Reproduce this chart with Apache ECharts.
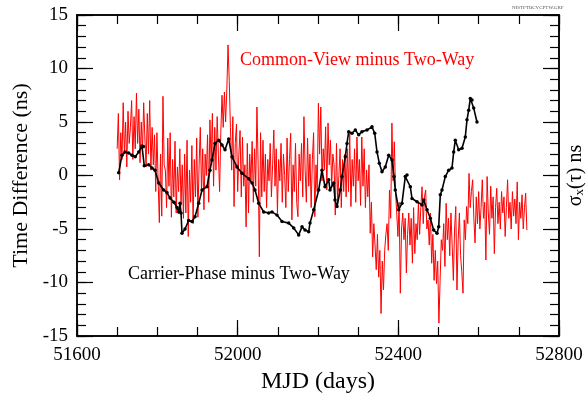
<!DOCTYPE html>
<html>
<head>
<meta charset="utf-8">
<script src="https://cdn.jsdelivr.net/npm/echarts@6/dist/echarts.min.js"></script>
<style>
html,body{margin:0;padding:0;background:#fff;}
#chart{width:586px;height:395px;}
</style>
</head>
<body>
<div id="chart"></div>
<script>
// ---- data ----
// Carrier-Phase minus Two-Way (black, with dots)
const cpMjd = [51703.8,51712,51719.5,51728.7,51737,51745,51753.6,51761.8,51765.6,51767.5,51778.5,51786.7,51794.2,51803.4,51815.8,51824,51831.5,51841.5,51849,51853.2,51856.4,51859,51861.4,51868.9,51878,51886.3,51893.8,51903,51911.2,51923.6,51931.1,51936,51943.6,51952.8,51961,51968.5,51977.7,51985.9,51998.3,52010.8,52027.5,52035.7,52043.1,52052.4,52064.8,52077.3,52085.5,52097.9,52110.4,52127,52139.5,52151.9,52160.2,52167.6,52176.8,52180.1,52189.3,52201.7,52209.9,52217.4,52226.6,52229.9,52239.1,52242.3,52247.3,52255.5,52259.7,52268,52272.2,52276.4,52284.6,52292.9,52301.3,52309.5,52322,52334.4,52341.2,52346.9,52352.6,52359.3,52367.5,52376,52384.2,52389.2,52392.4,52400.9,52409.1,52417.3,52421.6,52429.8,52434,52446.5,52458.9,52463.1,52471.4,52479.6,52488,52496.3,52500.5,52504.5,52508.7,52516.9,52525.4,52533.6,52537.8,52541.8,52550.3,52558.5,52566.7,52570.9,52575.2,52579.2,52583.4,52587.6,52595.8];
const cpVal = [0.26,1.9,2.2,2.1,1.9,1.75,2.2,2.75,2.7,0.9,1.0,0.7,0.5,-0.7,-1.35,-1.6,-2.1,-2.5,-3.0,-3.4,-2.6,-3.5,-5.4,-5.0,-4.2,-4.3,-3.85,-2.6,-1.35,-1.05,0.5,1.45,3.0,3.3,2.85,2.4,3.4,1.75,0.8,0.2,-0.3,-0.7,-1.35,-2.6,-3.4,-3.5,-3.4,-3.7,-4.3,-4.45,-4.9,-5.55,-4.8,-5.1,-5.25,-4.45,-3.2,-1.35,0.5,-1.05,-0.4,-1.35,-0.7,-2.3,-2.9,-1.35,-0.1,1.75,3.0,4.1,3.95,4.25,3.8,4.1,4.25,4.55,3.95,2.2,1.15,0.35,0.8,1.9,1.45,-0.1,-1.35,-3.2,-2.6,-0.1,0.05,-1.05,-2.15,-2.45,-2.75,-2.3,-3.2,-4.0,-5.1,-5.4,-4.8,-1.8,-1.35,-0.1,0.5,0.7,2.2,3.3,2.4,2.55,3.6,5.2,6.1,7.2,7.05,6.3,5.0];

// Common-View minus Two-Way (red), one value every 3 days from cvStart
const cvStart = 51700;
const cvStep = 3;
const cvVal = [
2.5,5.8,-0.4,4.0,1.5,6.8,2.0,5.0,0.8,6.0,3.0,
4.5,7.0,1.5,5.5,2.5,7.7,3.0,6.2,1.2,5.0,2.2,6.8,3.5,
0.8,5.8,2.0,7.0,0.5,4.5,1.0,3.8,
-1.5,4.0,-0.5,-4.4,2.0,-3.8,7.4,1.0,
0.5,-3.0,3.5,-1.0,4.0,-3.9,1.5,-2.0,3.2,-3.5,0.8,-1.5,2.5,-2.8,1.0,-4.0,
2.0,-3.5,3.3,-5.7,0.5,-2.5,2.8,-4.5,1.5,
-2.0,3.5,-3.9,1.0,4.5,-1.5,2.5,-3.2,2.0,0.0,3.8,-2.5,5.2,
1.0,5.8,-1.0,4.5,0.5,5.5,2.0,-1.5,
4.0,7.5,4.5,7.8,5.0,8.0,12.2,8.9,4.5,
0.5,5.5,-2.9,3.0,4.8,-1.5,2.0,4.2,
-2.0,3.6,-1.0,1.0,-4.8,3.0,-3.5,2.0,-0.5,3.2,-2.5,
2.5,-1.0,6.4,1.0,-7.6,4.0,-2.0,
3.3,-1.5,2.0,-3.0,1.5,-0.5,3.0,-2.0,1.0,4.25,-1.0,2.5,-3.5,1.5,-0.5,3.0,-2.5,2.0,0.0,-3.0,3.5,-1.5,1.5,3.95,-4.15,1.0,-1.5,3.0,-2.5,-3.85,2.0,
-0.5,3.0,-2.0,5.5,0.5,-2.5,3.5,-1.0,2.0,-3.0,1.5,4.0,-3.85,1.0,-1.5,6.75,2.0,6.4,-0.5,2.5,
0.5,4.55,-1.35,4.9,1.0,
3.3,-1.0,2.0,1.0,-3.7,3.0,-2.5,0.0,2.5,-3.0,1.5,-1.5,2.0,
-2.0,2.5,-1.5,3.95,-2.9,1.5,-1.0,2.5,-2.5,3.6,-0.5,1.5,-2.8,3.6,
-1.0,2.5,-3.0,0.5,-2.0,1.0,-5.4,-2.5,
-7.6,-4.5,-6.5,-8.8,-5.5,-9.5,-7.0,-12.9,-8.0,-10.7,-7.0,
-5.5,-4.5,-7.0,-1.35,-4.0,4.9,-0.5,
3.15,-1.5,-3.5,-5.7,-2.5,-11.0,
-5.0,-3.5,-6.0,-4.0,-9.1,-5.5,-3.5,-6.5,
-4.0,-8.2,-3.0,-7.3,-4.5,-6.0,-2.5,-5.5,-3.0,-1.05,-4.5,-2.0,
-1.35,-5.0,-4.15,-6.5,-3.5,-8.2,-5.5,-9.8,
-7.0,-10.1,-8.0,-13.8,-9.8,-6.0,-7.0,-4.5,
-8.5,-2.6,-6.0,-4.0,-7.5,-3.5,-6.5,-9.8,-5.0,-2.9,-10.7,-6.0,-3.5,-7.5,-9.0,-11.0,-4.15,
-6.0,-2.9,-4.5,0.2,-3.0,-1.5,-0.4,-4.0,-6.3,-2.0,-4.5,-1.5,-5.0,-3.0,-0.4,-4.0,-2.5,-7.9,-0.1,-3.5,-5.5,-1.0,-4.0,-2.0,-7.3,-3.0,-1.2,-4.5,-2.5,-5.0,-1.5,-3.5,-2.0,-5.7,-3.0,-0.4,-4.0,-2.5,-5.0,-1.5,-3.8,-2.2,-4.5,-0.6,-6.0,-2.5,-4.0,-1.8,-5.0,-3.0,-1.65,-5.1
];

// axes
const xMin = 51600, xMax = 52800, xStep = 400, xMinorStep = 100;
const yMin = -15, yMax = 15, yStep = 5, yMinorStep = 1;
const xTitle = 'MJD (days)';
const yTitle = 'Time Difference (ns)';
const y2Title = '{s|σ}{sub|x}{s|(τ) ns}';
const cvLabel = 'Common-View minus Two-Way';
const cpLabel = 'Carrier-Phase minus Two-Way';
const fileTag = 'NISTPTBCVCPTW.GRF';

// ---- build ----
const cvData = cvVal.map((v, i) => [cvStart + cvStep * i, v]);
const cpData = cpVal.map((v, i) => [cpMjd[i], v]);

const FONT = '"Liberation Serif","Times New Roman",serif';
const lineStyle = {color: '#000', width: 1.5};
const tickStyle = {color: '#000', width: 1.2};

function xAx(pos, step, len, showLabel) {
  return {
    type: 'value', position: pos, min: xMin, max: xMax, interval: step,
    axisLine: {show: true, onZero: false, lineStyle: lineStyle},
    axisTick: {show: true, inside: true, length: len, lineStyle: tickStyle},
    splitLine: {show: false},
    axisLabel: {show: showLabel, color: '#000', fontFamily: FONT, fontSize: 19, margin: 10,
                formatter: v => String(v)},
    name: showLabel ? xTitle : '',
    nameLocation: 'middle', nameGap: 31,
    nameTextStyle: {color: '#000', fontFamily: FONT, fontSize: 24}
  };
}
function yAx(pos, step, len, showLabel, title) {
  const a = {
    type: 'value', position: pos, min: yMin, max: yMax, interval: step,
    axisLine: {show: true, onZero: false, lineStyle: lineStyle},
    axisTick: {show: true, inside: true, length: len, lineStyle: tickStyle},
    splitLine: {show: false},
    axisLabel: {show: showLabel, color: '#000', fontFamily: FONT, fontSize: 19, margin: 9,
                formatter: v => String(v)},
    nameLocation: 'middle'
  };
  if (title === 'left') {
    a.name = yTitle; a.nameGap = 44; a.nameRotate = 90;
    a.nameTextStyle = {color: '#000', fontFamily: FONT, fontSize: 22};
  } else if (title === 'right') {
    a.name = y2Title; a.nameGap = 6; a.nameRotate = 90;
    a.nameTextStyle = {color: '#000', fontFamily: FONT, fontSize: 20,
      rich: {s: {fontFamily: FONT, fontSize: 20, color: '#000'},
             sub: {fontFamily: FONT, fontSize: 13, color: '#000', verticalAlign: 'bottom', padding: [8, 0, 0, 0]}}};
  }
  return a;
}

const chart = echarts.init(document.getElementById('chart'), null, {renderer: 'canvas'});
chart.setOption({
  animation: false,
  backgroundColor: '#fff',
  grid: {left: 77, right: 27, top: 15, bottom: 59, containLabel: false, outerBoundsMode: 'none'},
  xAxis: [
    xAx('bottom', xStep, 16, true),
    xAx('top', xStep, 16, false),
    xAx('bottom', xMinorStep, 9, false),
    xAx('top', xMinorStep, 9, false)
  ],
  yAxis: [
    yAx('left', yStep, 16, true, 'left'),
    yAx('right', yStep, 16, false, 'right'),
    yAx('left', yMinorStep, 9, false, null),
    yAx('right', yMinorStep, 9, false, null)
  ],
  series: [
    {type: 'line', name: cvLabel, data: cvData, xAxisIndex: 0, yAxisIndex: 0,
     symbol: 'none', lineStyle: {color: '#ff0000', width: 1}, z: 2},
    {type: 'line', name: cpLabel, data: cpData, xAxisIndex: 0, yAxisIndex: 0,
     symbol: 'circle', symbolSize: 3.5, showAllSymbol: true,
     itemStyle: {color: '#000'}, lineStyle: {color: '#000', width: 1.6}, z: 3}
  ],
  graphic: [
    {type: 'text', left: 240, top: 51, style: {text: cvLabel, fill: '#ff0000', font: '18px ' + FONT}},
    {type: 'text', left: 128, top: 265, style: {text: cpLabel, fill: '#000', font: '18px ' + FONT}},
    {type: 'text', left: 512, top: 5, style: {text: fileTag, fill: '#555', font: '5px ' + FONT}}
  ]
});
</script>
</body>
</html>
